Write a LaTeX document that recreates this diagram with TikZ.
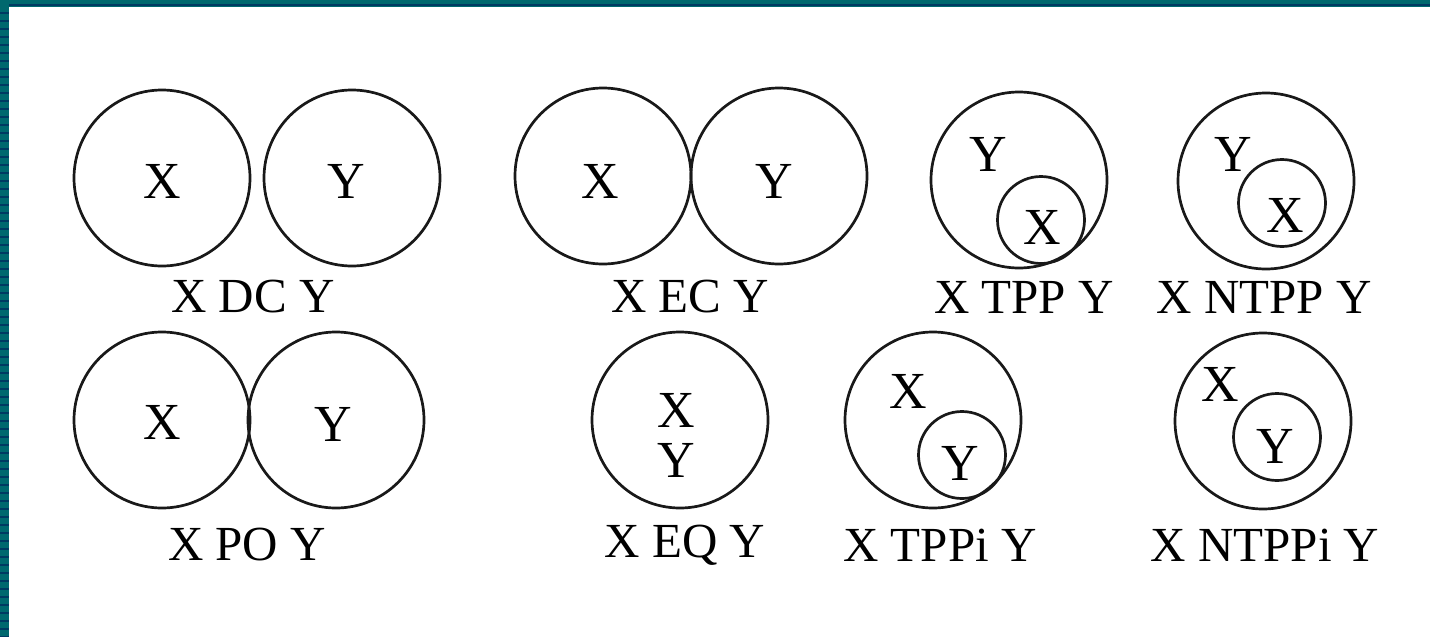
\documentclass[tikz,border=0pt]{standalone}
\usepackage{fontspec}
\setmainfont{Liberation Serif}
\definecolor{tealb}{RGB}{0,104,110}
\definecolor{navys}{RGB}{0,58,98}
\begin{document}
\begin{tikzpicture}[x=0.5pt,y=-0.5pt,
  ring/.style={circle,draw=black!90,line width=1.35pt,inner sep=0pt},
  big/.style={ring,minimum size=88pt},
  small/.style={ring,minimum size=43.5pt},
  lbl/.style={font=\fontsize{26}{30}\selectfont,inner sep=0pt,anchor=center},
  relname/.style={font=\fontsize{24.5}{29}\selectfont,inner sep=0pt,anchor=center}]
\useasboundingbox (0,0) rectangle (1430,637);
\fill[white] (0,0) rectangle (1430,637);
% border
\fill[tealb] (0,0) rectangle (1430,7);
\fill[navys] (0,4) rectangle (1430,5.5);
\fill[tealb] (0,0) rectangle (8.5,637);
\foreach \yy in {12,20,...,636} {\fill[navys] (0,\yy) rectangle (8.5,\yy+1.8);}
% DC
\node[big] (dcx) at (162,178) {};
\node[big] (dcy) at (352,178) {};
\node[lbl] (dcxt) at (162,181) {X};
\node[lbl] (dcyt) at (346,181) {Y};
\node[relname] (dcl) at (253,297) {X DC Y};
% EC
\node[big] (ecx) at (603,176) {};
\node[big] (ecy) at (779,176) {};
\node[lbl] (ecxt) at (600,181) {X};
\node[lbl] (ecyt) at (774,181) {Y};
\node[relname] (ecl) at (690,297) {X EC Y};
% TPP
\node[big] (tppy) at (1019,180) {};
\node[small] (tppx) at (1041,220) {};
\node[lbl] (tppyt) at (988,154) {Y};
\node[lbl] (tppxt) at (1042,227) {X};
\node[relname] (tppl) at (1024,297) {X TPP Y};
% NTPP
\node[big] (ntppy) at (1266,181) {};
\node[small] (ntppx) at (1282,203) {};
\node[lbl] (ntppyt) at (1233,154) {Y};
\node[lbl] (ntppxt) at (1285,215) {X};
\node[relname] (ntppl) at (1264,297) {X NTPP Y};
% PO
\node[big] (pox) at (162,420) {};
\node[big] (poy) at (336,420) {};
\node[lbl] (poxt) at (162,422) {X};
\node[lbl] (poyt) at (333,424) {Y};
\node[relname] (pol) at (247,545) {X PO Y};
% EQ
\node[big] (eq) at (680,420) {};
\node[lbl] (eqxt) at (676,410) {X};
\node[lbl] (eqyt) at (676,460) {Y};
\node[relname] (eql) at (685,545) {X EQ Y};
% TPPi
\node[big] (tppix) at (933,420) {};
\node[small] (tppiy) at (962,455) {};
\node[lbl] (tppixt) at (908,391) {X};
\node[lbl] (tppiyt) at (960,463) {Y};
\node[relname] (tppil) at (940,545) {X TPPi Y};
% NTPPi
\node[big] (ntppix) at (1263,421) {};
\node[small] (ntppiy) at (1277,437) {};
\node[lbl] (ntppixt) at (1220,384) {X};
\node[lbl] (ntppiyt) at (1275,446) {Y};
\node[relname] (ntppil) at (1265,545) {X NTPPi Y};
\end{tikzpicture}
\end{document}
